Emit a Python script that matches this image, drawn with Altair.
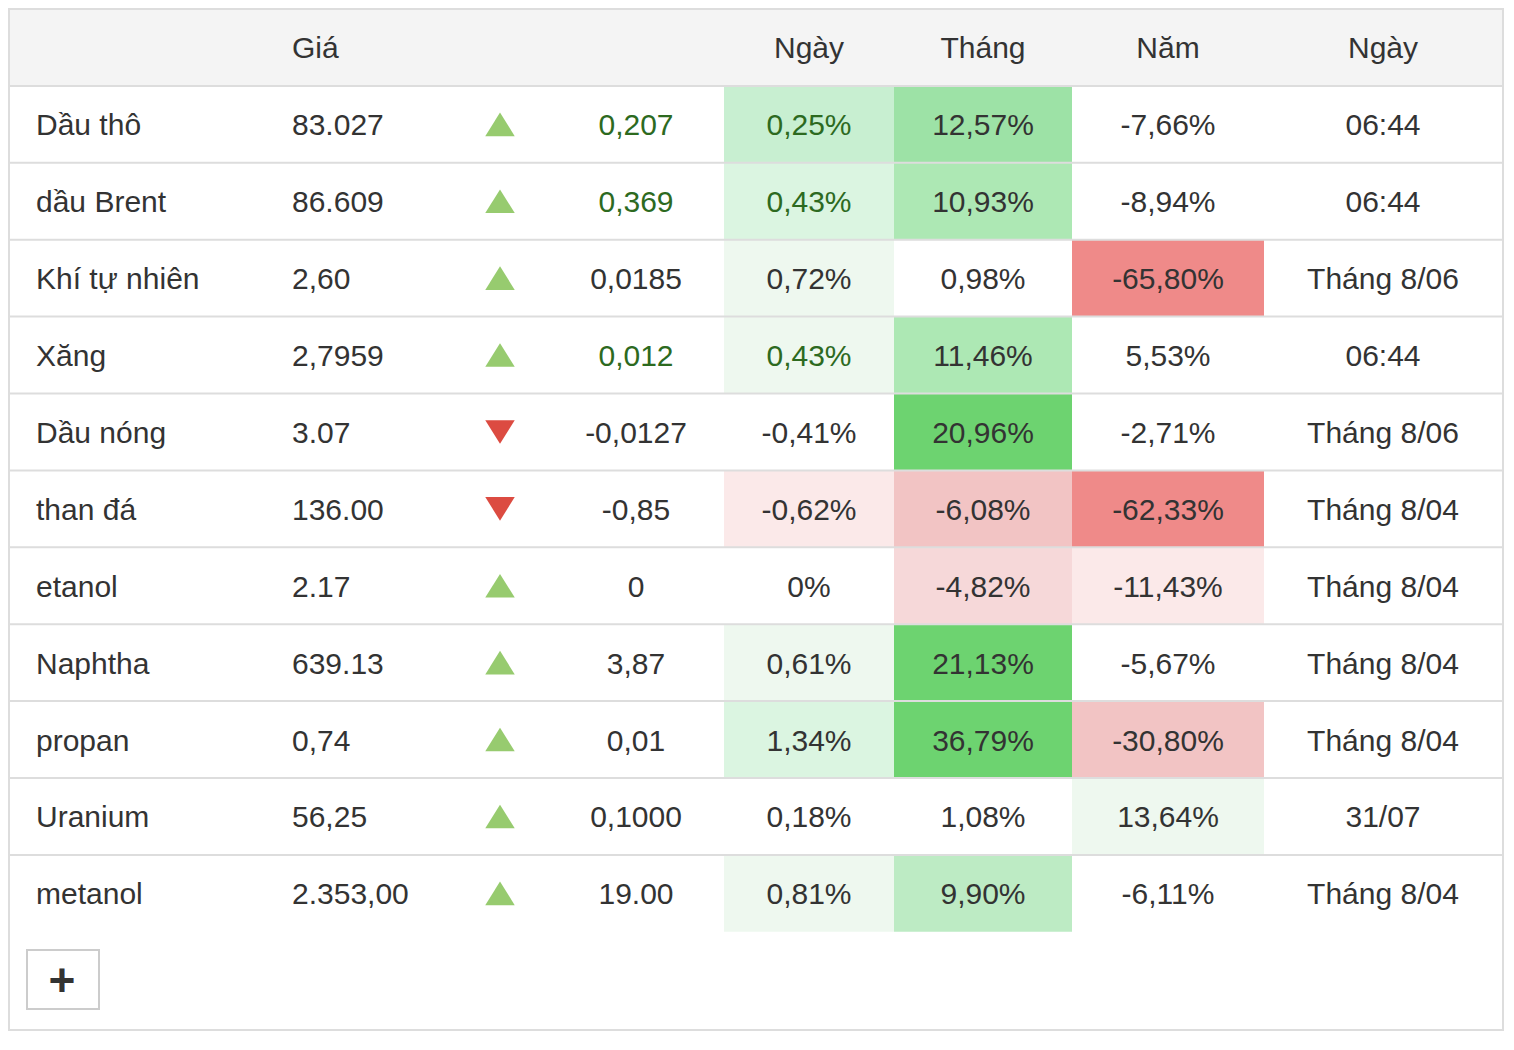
import altair as alt
import pandas as pd

# ---------------- DATA ----------------
names = ["Dầu thô", "dầu Brent", "Khí tự nhiên", "Xăng", "Dầu nóng", "than đá",
         "etanol", "Naphtha", "propan", "Uranium", "metanol"]
prices = ["83.027", "86.609", "2,60", "2,7959", "3.07", "136.00", "2.17",
          "639.13", "0,74", "56,25", "2.353,00"]
changes = ["0,207", "0,369", "0,0185", "0,012", "-0,0127", "-0,85", "0",
           "3,87", "0,01", "0,1000", "19.00"]
direction = ["up", "up", "up", "up", "down", "down", "up", "up", "up", "up", "up"]
day_pct = ["0,25%", "0,43%", "0,72%", "0,43%", "-0,41%", "-0,62%", "0%",
           "0,61%", "1,34%", "0,18%", "0,81%"]
month_pct = ["12,57%", "10,93%", "0,98%", "11,46%", "20,96%", "-6,08%", "-4,82%",
             "21,13%", "36,79%", "1,08%", "9,90%"]
year_pct = ["-7,66%", "-8,94%", "-65,80%", "5,53%", "-2,71%", "-62,33%", "-11,43%",
            "-5,67%", "-30,80%", "13,64%", "-6,11%"]
dates = ["06:44", "06:44", "Tháng 8/06", "06:44", "Tháng 8/06", "Tháng 8/04",
         "Tháng 8/04", "Tháng 8/04", "Tháng 8/04", "31/07", "Tháng 8/04"]
header_left = ["Giá"]
header_center = ["Ngày", "Tháng", "Năm", "Ngày"]
# heat level of each percentage cell (0 = no fill, + green, - red)
day_heat = [3, 2, 1, 1, 0, -1, 0, 1, 2, 0, 1]
month_heat = [6, 5, 0, 5, 7, -3, -2, 7, 7, 0, 4]
year_heat = [0, 0, -4, 0, 0, -4, -1, 0, -3, 1, 0]
# rows whose change / day values are shown in green
green_rows = [1, 1, 0, 1, 0, 0, 0, 0, 0, 0, 0]

# ---------------- LAYOUT / STYLE ----------------
W, H = 1498, 1034
ROW_PX = 76.9
TOP_OFF = 1.0 / ROW_PX
X_DOM = [8, 8 + W]
Y_DOM = [-TOP_OFF, H / ROW_PX - TOP_OFF]
NAME_X, PRICE_X, ARROW_X, CHANGE_X = 36, 292, 500, 636
DAY_X, MONTH_X, YEAR_X, DATE_X = 809, 983, 1168, 1383
DAY_E, MONTH_E, YEAR_E = (724, 894), (894, 1072), (1072, 1264)
TABLE_L, TABLE_R = 6, 1502
FONT = "Liberation Sans"
FS = 30
DARK = "#333333"
GREEN_TXT = "#2d6a1f"
heat_levels = [-4, -3, -2, -1, 1, 2, 3, 4, 5, 6, 7]
heat_colors = ["#ef8a89", "#f2c4c4", "#f6d8d9", "#fbe9e9", "#eef8ef", "#dbf5e1",
               "#c8efd1", "#bdebc4", "#ade8b4", "#9de2a6", "#6dd370"]
UP_PATH = "M-1,0.8L1,0.8L0,-0.8Z"
DOWN_PATH = "M-1,-0.8L1,-0.8L0,0.8Z"

xs = alt.Scale(domain=X_DOM, nice=False, zero=False)
ys = alt.Scale(domain=Y_DOM, nice=False, zero=False, reverse=True)


def X(f="x"):
    return alt.X(f"{f}:Q", scale=xs, axis=None)


def Y(f="u"):
    return alt.Y(f"{f}:Q", scale=ys, axis=None)


def pu(py):
    """page y -> row units"""
    return (py - 9) / ROW_PX


n = len(names)

# header background & outer border
hdr_bg = pd.DataFrame({"x": [TABLE_L], "x2": [TABLE_R], "u": [0.0], "u2": [1.0]})
border = pd.DataFrame({"x": [9], "x2": [1503], "u": [0.0], "u2": [pu(1030)]})

# heat cells
heat_rows = []
for i in range(n):
    for (e, lv) in ((DAY_E, day_heat[i]), (MONTH_E, month_heat[i]), (YEAR_E, year_heat[i])):
        if lv != 0:
            heat_rows.append({"x": e[0], "x2": e[1], "u": i + 1.0, "u2": i + 2.0, "level": lv})
heat = pd.DataFrame(heat_rows)

# separators
seps = pd.DataFrame({"x": [TABLE_L] * n, "x2": [TABLE_R] * n, "u": [float(k) for k in range(1, n + 1)]})

# texts
left_rows, center_rows = [], []
left_rows.append({"x": PRICE_X, "u": 0.5, "t": header_left[0], "c": DARK})
for hx, ht in zip([DAY_X, MONTH_X, YEAR_X, DATE_X], header_center):
    center_rows.append({"x": hx, "u": 0.5, "t": ht, "c": DARK})
for i in range(n):
    u = i + 1.5
    g = GREEN_TXT if green_rows[i] else DARK
    left_rows.append({"x": NAME_X, "u": u, "t": names[i], "c": DARK})
    left_rows.append({"x": PRICE_X, "u": u, "t": prices[i], "c": DARK})
    center_rows.append({"x": CHANGE_X, "u": u, "t": changes[i], "c": g})
    center_rows.append({"x": DAY_X, "u": u, "t": day_pct[i], "c": g})
    center_rows.append({"x": MONTH_X, "u": u, "t": month_pct[i], "c": DARK})
    center_rows.append({"x": YEAR_X, "u": u, "t": year_pct[i], "c": DARK})
    center_rows.append({"x": DATE_X, "u": u, "t": dates[i], "c": DARK})
left_df = pd.DataFrame(left_rows)
center_df = pd.DataFrame(center_rows)

arrows = pd.DataFrame({"x": [ARROW_X] * n, "u": [i + 1.5 for i in range(n)], "dir": direction})

button = pd.DataFrame({"x": [27], "x2": [99], "u": [pu(950)], "u2": [pu(1009)]})
plus = pd.DataFrame({"x": [62], "u": [pu(996)], "t": ["+"]})

layers = [
    alt.Chart(hdr_bg).mark_rect(fill="#f4f4f4").encode(x=X(), x2="x2:Q", y=Y(), y2="u2:Q"),
    alt.Chart(heat).mark_rect().encode(
        x=X(), x2="x2:Q", y=Y(), y2="u2:Q",
        color=alt.Color("level:O", scale=alt.Scale(domain=heat_levels, range=heat_colors), legend=None)),
    alt.Chart(seps).mark_rule(color="#dddddd", strokeWidth=2).encode(x=X(), x2="x2:Q", y=Y()),
    alt.Chart(border).mark_rect(fillOpacity=0, stroke="#dddddd", strokeWidth=2).encode(
        x=X(), x2="x2:Q", y=Y(), y2="u2:Q"),
    alt.Chart(left_df).mark_text(align="left", baseline="middle", font=FONT, fontSize=FS, dy=2).encode(
        x=X(), y=Y(), text="t:N", color=alt.Color("c:N", scale=None)),
    alt.Chart(center_df).mark_text(align="center", baseline="middle", font=FONT, fontSize=FS, dy=2).encode(
        x=X(), y=Y(), text="t:N", color=alt.Color("c:N", scale=None)),
    alt.Chart(arrows).mark_point(filled=True, size=870, opacity=1, strokeWidth=0).encode(
        x=X(), y=Y(),
        shape=alt.Shape("dir:N", scale=alt.Scale(domain=["up", "down"], range=[UP_PATH, DOWN_PATH]), legend=None),
        color=alt.Color("dir:N", scale=alt.Scale(domain=["up", "down"], range=["#97cb6f", "#dc4b41"]), legend=None)),
    alt.Chart(button).mark_rect(fill="white", stroke="#cccccc", strokeWidth=2).encode(
        x=X(), x2="x2:Q", y=Y(), y2="u2:Q"),
    alt.Chart(plus).mark_text(align="center", baseline="alphabetic", font=FONT, fontSize=46,
                              fontWeight="bold", color=DARK).encode(x=X(), y=Y(), text="t:N"),
]

chart = alt.layer(*layers).resolve_scale(color="independent", shape="independent").properties(
    width=W, height=H, padding=0,
    autosize=alt.AutoSizeParams(type="none"),
).configure_view(stroke=None)

chart.save("out.html", embed_options={"renderer": "svg", "actions": False})
